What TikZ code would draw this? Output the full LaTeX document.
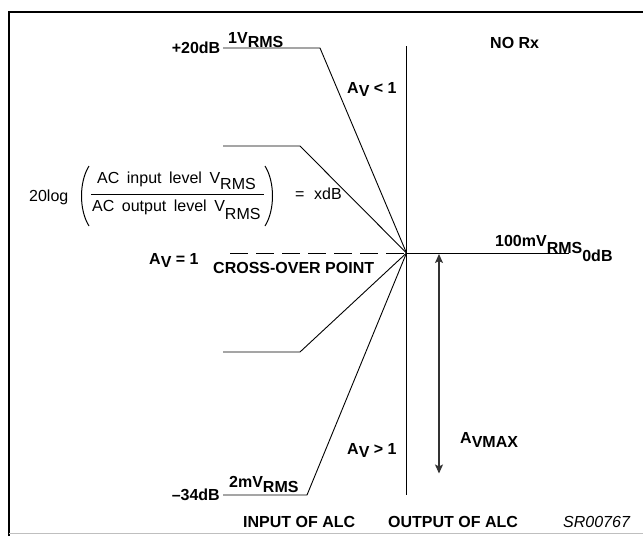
\documentclass[tikz,border=0pt]{standalone}
\usepackage{fontspec}
\setmainfont{Liberation Sans}
\usetikzlibrary{calc}
\usetikzlibrary{arrows.meta}
\usetikzlibrary{positioning}

\begin{document}
\begin{tikzpicture}[x=1pt,y=-1pt]
% 1 unit = 1 pixel of the sheet, y grows downwards
    \def\XLEFT{223}   % start of the level lines
    \def\XCROSS{406.5}
    \def\YCROSS{253}
    \def\YTOP{48}     % +20dB
    \def\YUP{146}
    \def\YLOW{352}
    \def\YBOT{495}    % -34dB
    \def\WGAP{\hspace{7.5pt}} % wide word gap in the formula

    \tikzset{
      curve/.style={line width=0.9pt},
      lbl/.style={font=\fontsize{16}{16}\selectfont\bfseries, inner sep=0pt},
      txt/.style={font=\fontsize{16}{16}\selectfont, inner sep=0pt},
      dimen/.style={{Stealth[length=9pt,width=8pt,inset=2pt]}-{Stealth[length=9pt,width=8pt,inset=2pt]},
        line width=1.3pt, color=black!80},
    }

    \useasboundingbox (0,0) rectangle (643,536);

    % SHEET FRAME
    \draw[line width=2pt] (9,536) -- (9,11.5) -- (643,11.5);
    \draw[black!25, line width=1pt] (9,533.5) -- (643,533.5);

    % AXIS AND CROSS-OVER POINT
    \coordinate (X) at (\XCROSS,\YCROSS);
    \coordinate (axtop) at (\XCROSS,46);
    \coordinate (axbot) at (\XCROSS,495);
    \draw[curve] (axtop) -- (axbot);

    % LEVEL CURVES
    \coordinate (top1) at (\XLEFT,\YTOP);  \coordinate (knee1) at (320,\YTOP);
    \coordinate (top2) at (\XLEFT,\YUP);   \coordinate (knee2) at (300,\YUP);
    \coordinate (top3) at (\XLEFT,\YLOW);  \coordinate (knee3) at (300,\YLOW);
    \coordinate (top4) at (\XLEFT,\YBOT);  \coordinate (knee4) at (307,\YBOT);
    \foreach \i in {1,...,4}{
      \draw[curve] (top\i) -- (knee\i) -- (X);
    }

    % 0dB LINE (dashed on the input side)
    \coordinate (zleft) at (230,\YCROSS);
    \coordinate (zright) at (568.5,\YCROSS);
    \draw[curve, dash pattern=on 18pt off 8pt] (zleft) -- (X);
    \draw[curve] (X) -- (zright);

    % AVMAX ARROW
    \coordinate (gaintop) at (439,254);
    \coordinate (gainbot) at (439,473.5);
    \draw[dimen] (gaintop) -- (gainbot);

    % LEVEL LABELS
    \node[lbl, anchor=base east] (plus20) at (220.5,53.5) {+20dB};
    \node[lbl, anchor=base west] (onev) at (228,43)
        {1V\raisebox{-4pt}{RMS}};
    \node[lbl, anchor=base east] (minus34) at (220,500) {--34dB};
    \node[lbl, anchor=base west] (twomv) at (229,487)
        {2mV\raisebox{-5pt}{RMS}};
    \node[lbl, anchor=base west] (hundredmv) at (495,246.5)
        {100mV\raisebox{-7pt}{RMS}\raisebox{-14.5pt}{0dB}};

    % REGION LABELS
    \node[lbl, anchor=base west] (norx) at (490,48) {NO Rx};
    \node[lbl, anchor=base west] (avless) at (347,93) {A\raisebox{-3pt}{V} < 1};
    \node[lbl, anchor=base west] (avone) at (149,264) {A\raisebox{-3pt}{V} = 1};
    \node[lbl, anchor=base west] (cross) at (213,273) {CROSS-OVER POINT};
    \node[lbl, anchor=base west] (avmore) at (347,454.5) {A\raisebox{-3pt}{V} > 1};
    \node[lbl, anchor=base west] (avmax) at (460,443) {A\raisebox{-4.5pt}{VMAX}};

    % FORMULA
    \node[txt, anchor=base west] (twentylog) at (29,201) {20log};
    \node[txt, anchor=base west] (num) at (97,183)
        {AC\WGAP input\WGAP level\WGAP V\raisebox{-6pt}{RMS}};
    \node[txt, anchor=base west] (den) at (92,211)
        {AC\WGAP output\WGAP level\WGAP V\raisebox{-8pt}{RMS}};
    \coordinate (barl) at (91,194.5);
    \coordinate (barr) at (264,194.5);
    \draw[line width=0.9pt] (barl) -- (barr);
    \coordinate (lpt) at (89,166);  \coordinate (lpb) at (89,226);
    \coordinate (rpt) at (265,166); \coordinate (rpb) at (265,226);
    \draw[line width=1pt] (lpt) .. controls (79,182) and (79,210) .. (lpb);
    \draw[line width=1pt] (rpt) .. controls (275,182) and (275,210) .. (rpb);
    \node[txt, anchor=base west] (eq) at (295,199.5) {=};
    \node[txt, anchor=base west] (xdb) at (314,199.5) {xdB};

    % FOOTER
    \node[lbl, anchor=base west] (inalc) at (243,527) {INPUT OF ALC};
    \node[lbl, anchor=base west] (outalc) at (388,527) {OUTPUT OF ALC};
    \node[txt, anchor=base west, font=\fontsize{16}{16}\selectfont\itshape] (code) at (563,527) {SR00767};

\end{tikzpicture}
\end{document}
